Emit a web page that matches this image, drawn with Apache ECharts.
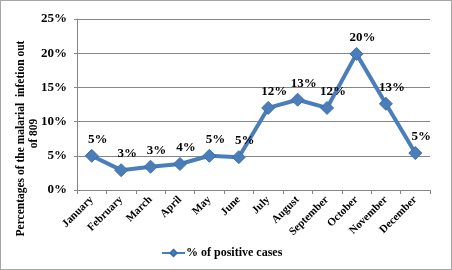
<!DOCTYPE html>
<html>
<head>
<meta charset="utf-8">
<script src="https://cdn.jsdelivr.net/npm/echarts@6/dist/echarts.min.js"></script>
<style>
  html, body { margin: 0; padding: 0; background: #fff; }
  #chart { width: 450px; height: 268px; border: 1px solid #a6a6a6; }
</style>
</head>
<body>
<div id="chart"></div>
<script>
// months on the x axis
var months = ['January', 'February', 'March', 'April', 'May', 'June',
  'July', 'August', 'September', 'October', 'November', 'December'];
// % of positive cases
var positive = [5.0, 2.9, 3.4, 3.8, 5.0, 4.8, 12.0, 13.2, 12.0, 19.9, 12.6, 5.4];
var seriesName = '% of positive cases';
var yTitle1 = 'Percentages of the malarial  infetion out';
var yTitle2 = 'of 809';

var font = 'Liberation Serif';
var chart = echarts.init(document.getElementById('chart'));
chart.setOption({
  animation: false,
  textStyle: { fontFamily: font, fontWeight: 'bold', color: '#000' },
  grid: { left: 76, right: 21, top: 18, bottom: 79, outerBoundsMode: 'none' },
  legend: {
    data: [seriesName],
    bottom: 5,
    left: 155,
    itemWidth: 23,
    itemHeight: 8,
    itemGap: 2,
    textStyle: { fontFamily: font, fontWeight: 'bold', fontSize: 12, color: '#000', padding: [0, 0, 0, -4] }
  },
  xAxis: {
    type: 'category',
    data: months,
    boundaryGap: true,
    axisLine: { lineStyle: { color: '#868686' } },
    axisTick: { show: true, length: 4, lineStyle: { color: '#868686' } },
    axisLabel: {
      rotate: 45, fontSize: 11, fontWeight: 'bold', fontFamily: font,
      color: '#000', margin: 8, interval: 0
    }
  },
  yAxis: {
    type: 'value',
    min: 0, max: 25, interval: 5,
    name: '{a|' + yTitle1 + '}\n{b|' + yTitle2 + '}',
    nameLocation: 'middle',
    nameGap: 36,
    nameMoveOverlap: false,
    nameTextStyle: {
      fontFamily: font, fontWeight: 'bold', fontSize: 11.5, color: '#000',
      lineHeight: 13,
      rich: {
        // push each line down the left edge, as in the reference
        a: { fontFamily: font, fontWeight: 'bold', fontSize: 11.5, lineHeight: 13, padding: [0, 68, 0, 0] },
        b: { fontFamily: font, fontWeight: 'bold', fontSize: 11.5, lineHeight: 13, padding: [0, 58, 0, 0] }
      }
    },
    axisLine: { show: true, lineStyle: { color: '#868686' } },
    axisTick: { show: true, length: 3, lineStyle: { color: '#868686' } },
    splitLine: { lineStyle: { color: '#868686' } },
    axisLabel: {
      formatter: '{value}%', fontSize: 13, fontWeight: 'bold',
      fontFamily: font, color: '#000', margin: 10
    }
  },
  series: [{
    name: seriesName,
    type: 'line',
    data: positive,
    symbol: 'diamond',
    symbolSize: 13,
    lineStyle: { width: 4, color: '#4a7ebb' },
    itemStyle: { color: '#4a7ebb', borderColor: '#3e6ea8', borderWidth: 1 },
    label: {
      show: true,
      position: 'top',
      offset: [6, 0],
      distance: 3,
      fontFamily: font, fontWeight: 'bold', fontSize: 13, color: '#000',
      formatter: function (p) { return Math.round(p.value) + '%'; }
    }
  }]
});
</script>
</body>
</html>
